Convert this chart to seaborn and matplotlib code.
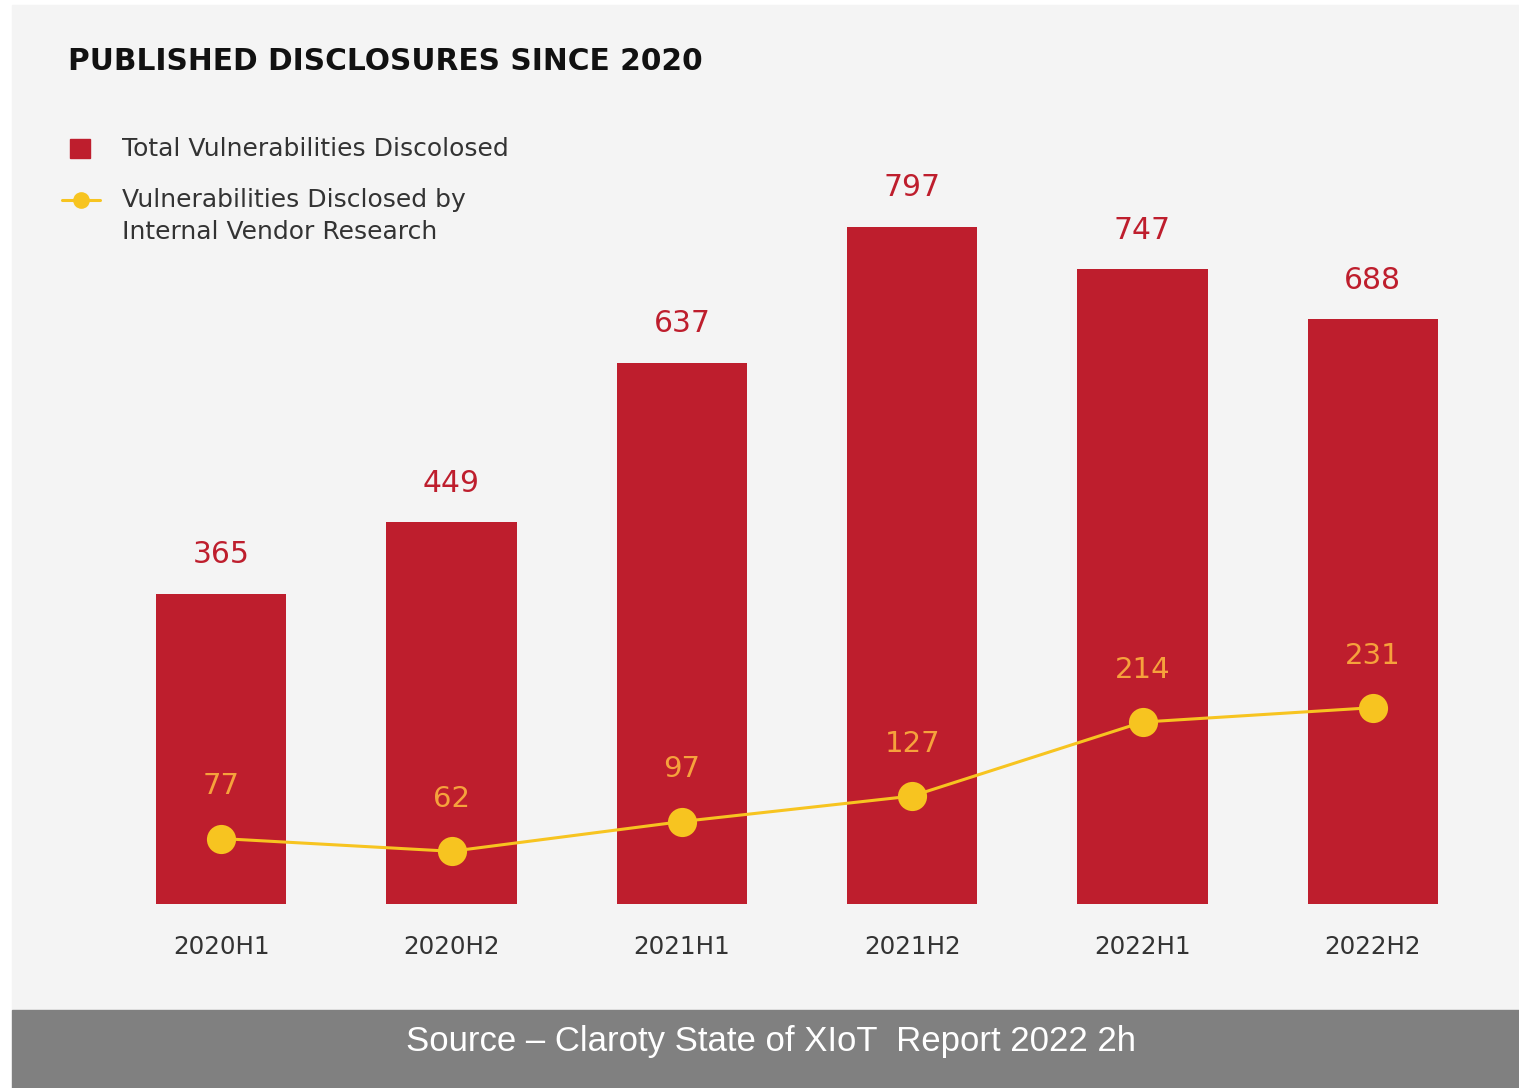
import numpy as np
import pandas as pd
import matplotlib
matplotlib.use('Agg')
import matplotlib.pyplot as plt
import seaborn as sns
from matplotlib.patches import Rectangle
from matplotlib.lines import Line2D

periods = ['2020H1', '2020H2', '2021H1', '2021H2', '2022H1', '2022H2']
total = [365, 449, 637, 797, 747, 688]
internal = [77, 62, 97, 127, 214, 231]

title = 'PUBLISHED DISCLOSURES SINCE 2020'
legend_total = 'Total Vulnerabilities Discolosed'
legend_internal = ['Vulnerabilities Disclosed by', 'Internal Vendor Research']
source = 'Source – Claroty State of XIoT  Report 2022 2h'

RED = '#be1e2d'
YELLOW = '#f7c420'
ORANGE = '#f6a23c'
BG = '#f4f4f4'

sns.set_theme(style='white')
plt.rcParams['font.family'] = ['DejaVu Sans']

W, H = 1519, 1088
fig = plt.figure(figsize=(W / 100, H / 100), dpi=100, facecolor='white')


def fx(x):
    return x / W


def fy(y):
    return 1 - y / H


fig.add_artist(Rectangle((fx(12), fy(1010)), 1 - fx(12), fy(5) - fy(1010),
                         transform=fig.transFigure, color=BG, zorder=0))
fig.add_artist(Rectangle((fx(12), 0), 1 - fx(12), fy(1010),
                         transform=fig.transFigure, color='#808080', zorder=0))

ax = fig.add_axes([fx(106), fy(904), fx(1488) - fx(106), fy(139) - fy(904)])
ax.set_facecolor('none')

df = pd.DataFrame({'period': periods, 'total': total, 'internal': internal})
sns.barplot(data=df, x='period', y='total', color=RED, width=0.565,
            saturation=1, linewidth=0, ax=ax, zorder=2)
sns.lineplot(x=np.arange(len(periods)), y=internal, color=YELLOW, lw=2.2,
             marker='o', markersize=21, markeredgewidth=0, ax=ax, zorder=3)

ax.set_xlim(-0.5, len(periods) - 0.5)
ax.set_ylim(0, 900)
ax.set_xlabel('')
ax.set_ylabel('')
ax.set_yticks([])
sns.despine(ax=ax, left=True, bottom=True)
ax.tick_params(axis='x', length=0, pad=22, labelsize=17.7, labelcolor='#333333')

for i, v in enumerate(total):
    ax.annotate(str(v), (i, v), xytext=(0, 28), textcoords='offset points',
                ha='center', va='center', fontsize=21.5, color=RED)
for i, v in enumerate(internal):
    ax.annotate(str(v), (i, v), xytext=(0, 37.5), textcoords='offset points',
                ha='center', va='center', fontsize=21, color=ORANGE, zorder=4)

fig.text(fx(68), fy(62), title, fontsize=21.3, fontweight='bold', color='#111111',
         ha='left', va='center')

# legend
fig.add_artist(Rectangle((fx(70), fy(158)), fx(20), fy(139) - fy(158),
                         transform=fig.transFigure, color=RED))
fig.add_artist(Line2D([fx(62), fx(100)], [fy(200), fy(200)], transform=fig.transFigure,
                      color=YELLOW, lw=2.2))
fig.add_artist(Line2D([fx(81)], [fy(200)], transform=fig.transFigure,
                      color=YELLOW, marker='o', markersize=12, markeredgewidth=0))
fig.text(fx(122), fy(149), legend_total, fontsize=18, color='#333333',
         ha='left', va='center')
fig.text(fx(122), fy(200), legend_internal[0], fontsize=18, color='#333333',
         ha='left', va='center')
fig.text(fx(122), fy(232), legend_internal[1], fontsize=18, color='#333333',
         ha='left', va='center')

fig.text(fx(771), fy(1041), source, fontsize=25, color='white', ha='center', va='center',
         family=['Liberation Sans', 'DejaVu Sans'])

fig.savefig('out.png', dpi=100, facecolor='white')
